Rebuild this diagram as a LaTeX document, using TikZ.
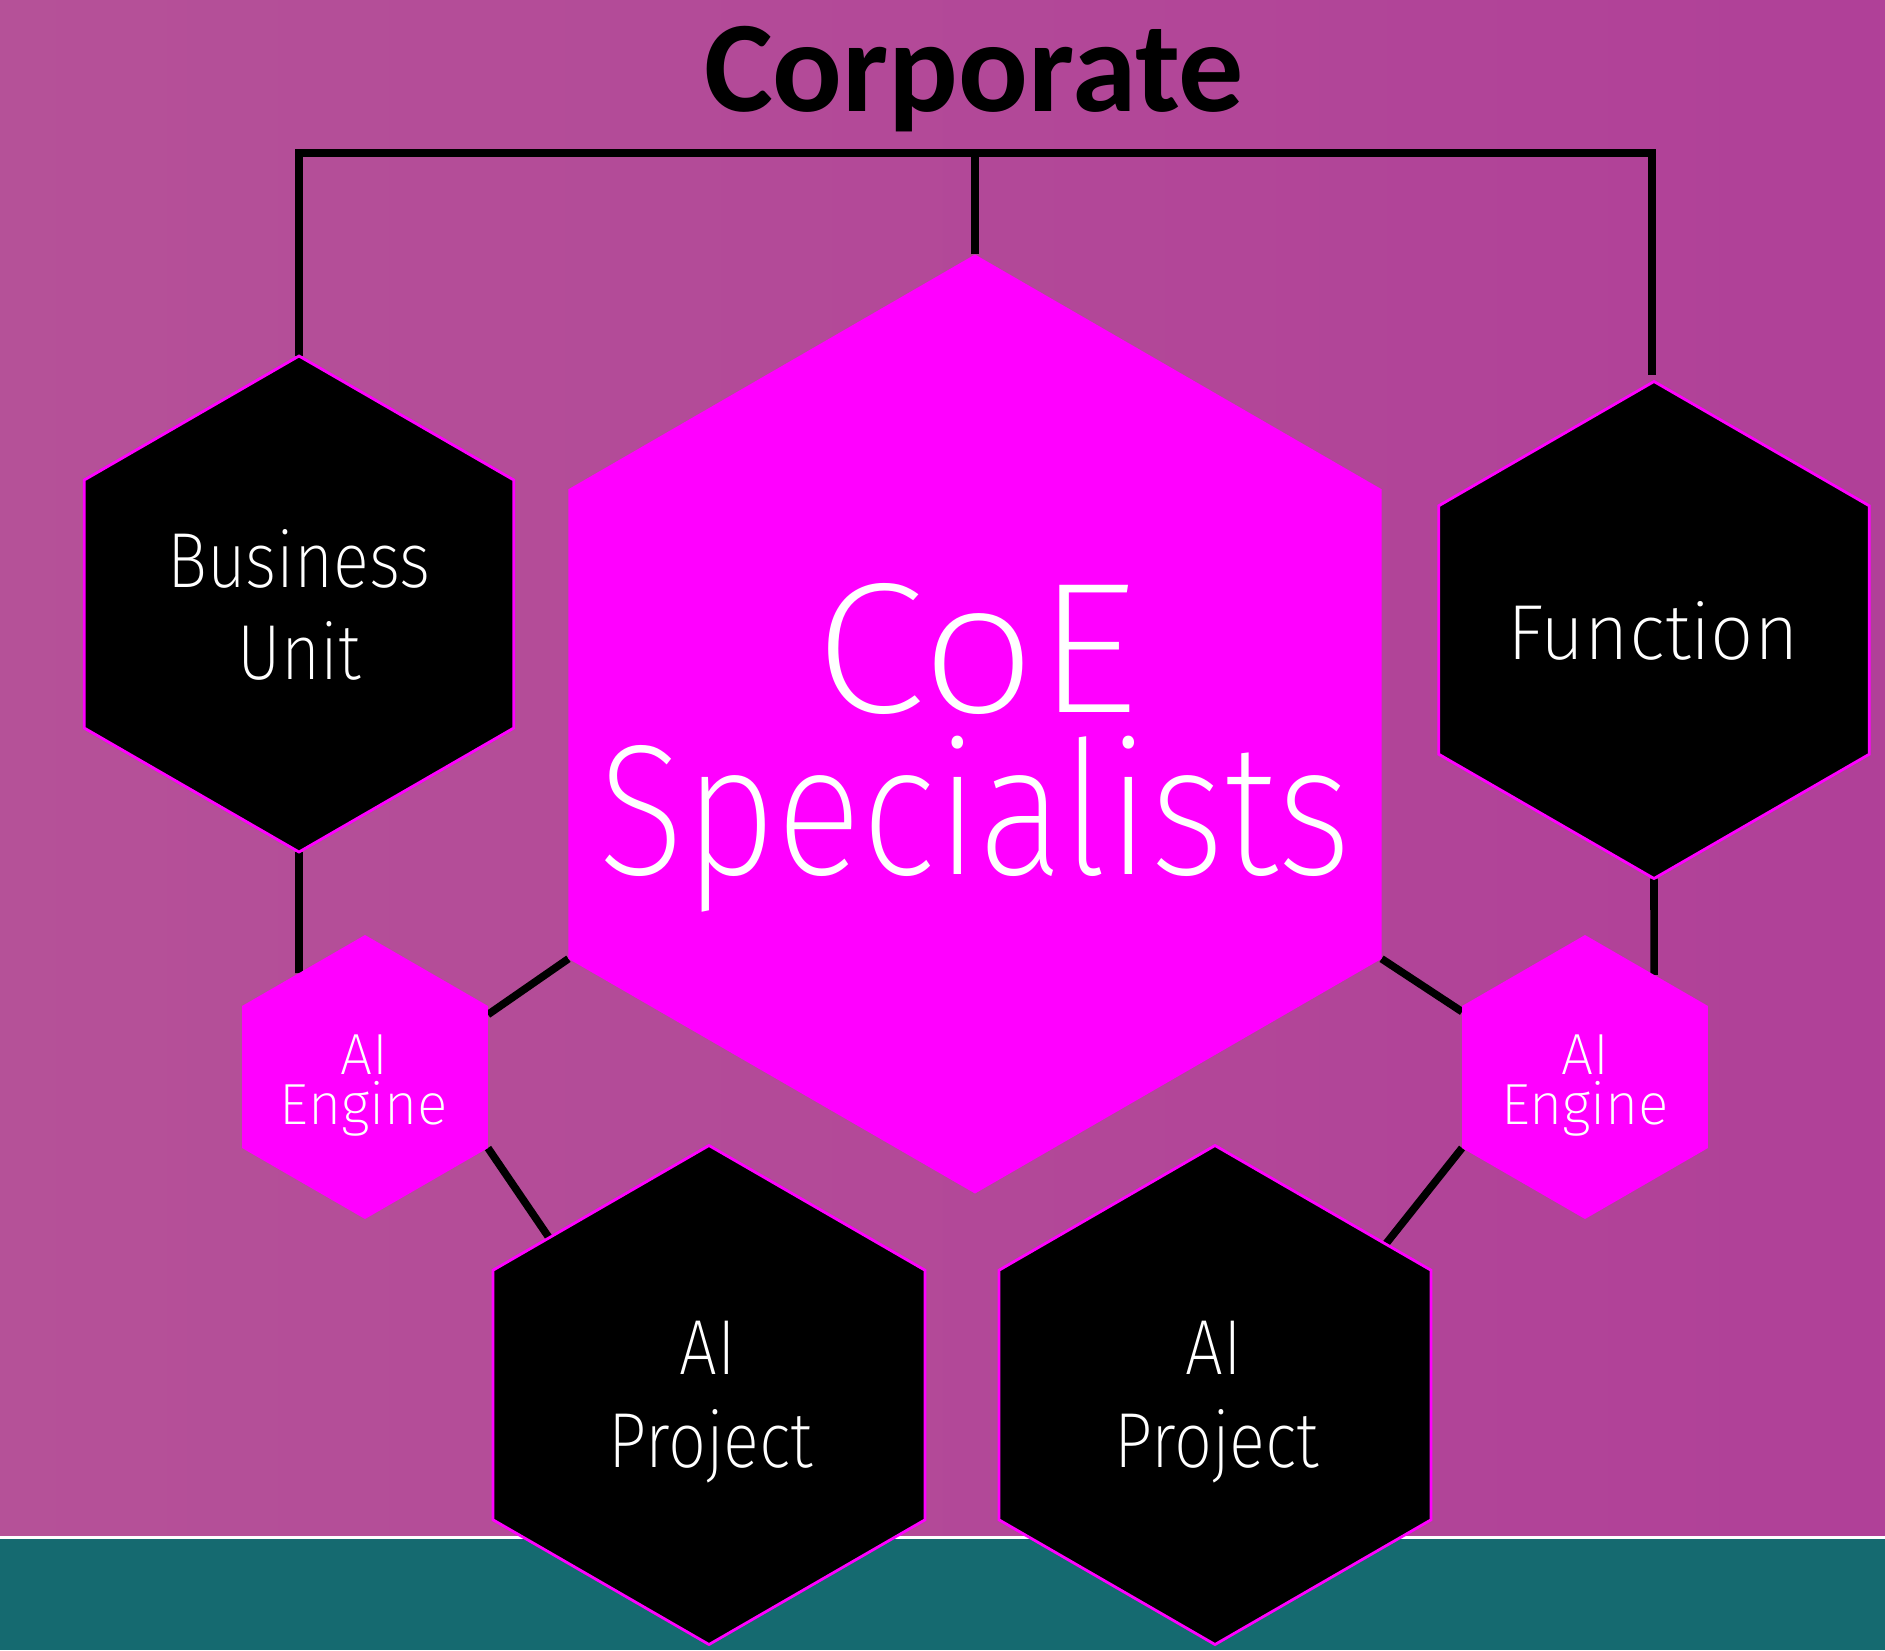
\documentclass[tikz,border=0pt]{standalone}
\usepackage{fontspec}
\setmainfont{Fira Sans ExtraLight}[FakeStretch=0.86]
\newfontfamily\widefont{Fira Sans ExtraLight}[FakeStretch=0.98]
\newfontfamily\coefont{Fira Sans ExtraLight}[FakeStretch=1.09]
\newfontfamily\corpfont{Carlito}
\usetikzlibrary{shapes.geometric,calc}
\definecolor{bgL}{RGB}{181,81,152}
\definecolor{bgR}{RGB}{176,64,152}
\definecolor{tealband}{RGB}{21,106,112}
\definecolor{hexmag}{RGB}{255,0,255}
\pgfdeclarelayer{bg}
\pgfsetlayers{bg,main}
\begin{document}
\begin{tikzpicture}[x=0.5pt,y=-0.5pt,
  hexbase/.style={regular polygon, regular polygon sides=6, shape border rotate=30, inner sep=0pt, outer sep=0pt},
  darkhex/.style={hexbase, fill=black, draw=hexmag, line width=1.4pt},
  pinkhex/.style={hexbase, fill=hexmag},
  conn/.style={line width=3.8pt, black, line join=miter},
  lbl/.style={text=white, anchor=base, inner sep=0pt},
  bigtxt/.style={lbl, font=\fontsize{93}{93}\selectfont},
  midtxt/.style={lbl, font=\fontsize{39}{39}\selectfont},
  smalltxt/.style={lbl, font=\widefont\fontsize{29}{29}\selectfont},
]
\useasboundingbox (0,0) rectangle (1885,1650);

% hexagons
\node[darkhex, minimum size=248pt] (bu) at (299,604) {};
\node[darkhex, minimum size=248.5pt] (fn) at (1654,630) {};
\node[pinkhex, minimum size=469.5pt] (coe) at (975,724) {};
\node[pinkhex, minimum size=142pt] (eL) at (365,1077) {};
\node[pinkhex, minimum size=142pt] (eR) at (1585,1077) {};
\node[darkhex, minimum size=249.5pt] (pL) at (709,1395) {};
\node[darkhex, minimum size=249.5pt] (pR) at (1215,1395) {};

% texts
\node[lbl, font=\corpfont\bfseries\fontsize{65}{65}\selectfont, text=black] (corp) at (974,111) {Corporate};
\node[bigtxt, font=\coefont\fontsize{93}{93}\selectfont] (coe1) at (976,712) {CoE};
\node[bigtxt] (coe2) at (975,874) {Specialists};
\node[midtxt] (bu1) at (299,587) {Business};
\node[midtxt] (bu2) at (299,679) {Unit};
\node[midtxt, font=\widefont\fontsize{39}{39}\selectfont] (fn1) at (1653,659) {Function};
\node[midtxt] (pL1) at (708,1374) {AI};
\node[midtxt] (pL2) at (711,1467) {Project};
\node[midtxt] (pR1) at (1214,1374) {AI};
\node[midtxt] (pR2) at (1217,1467) {Project};
\node[smalltxt] (eL1) at (364,1074) {AI};
\node[smalltxt] (eL2) at (364,1124) {Engine};
\node[smalltxt] (eR1) at (1585,1074) {AI};
\node[smalltxt] (eR2) at (1585,1124) {Engine};

% connector helper points
\coordinate (bus) at (974,153);
\coordinate (fnstub) at ($(fn.90)+(-2,-7)$);
\coordinate (bj) at (intersection of bu.270--bu.90 and eL.150--eL.90);
\coordinate (fj) at (intersection of fn.270--fn.90 and eR.90--eR.30);
\coordinate (cl) at ($(eL.30)!0.06!(eL.330)$);
\coordinate (cr) at ($(eR.150)!0.04!(eR.210)$);
\coordinate (pl) at ($(pL.150)!0.26!(pL.90)$);
\coordinate (pr) at ($(pR.90)!0.79!(pR.30)$);

\begin{pgfonlayer}{bg}
  \fill[left color=bgL, right color=bgR] (0,0) rectangle (1885,1539);
  \fill[tealband] (0,1539) rectangle (1885,1650);
  \draw[white, line width=1.5pt] (0,1537) -- (1885,1537);
  \draw[conn] (bu.90) -- (bu.90 |- bus) -- (fnstub |- bus) -- (fnstub);
  \draw[conn] (coe.90) -- (coe.90 |- bus);
  \draw[conn] (bu.270) -- (bj);
  \draw[conn] (fn.270) -- (fj);
  \draw[conn] (coe.210) -- (cl);
  \draw[conn] (coe.330) -- (cr);
  \draw[conn] (eL.330) -- (pl);
  \draw[conn] (eR.210) -- (pr);
\end{pgfonlayer}
\end{tikzpicture}
\end{document}
